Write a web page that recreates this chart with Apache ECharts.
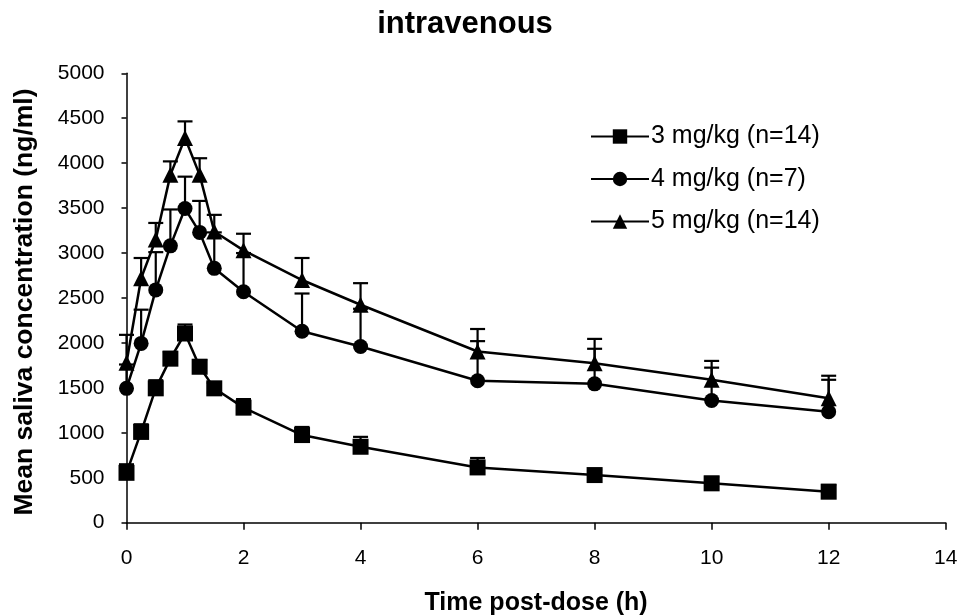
<!DOCTYPE html>
<html>
<head>
<meta charset="utf-8">
<script src="https://cdn.jsdelivr.net/npm/echarts@6/dist/echarts.min.js"></script>
<style>
  html, body { margin: 0; padding: 0; background: #fff; }
  #main { width: 959px; height: 616px; }
</style>
</head>
<body>
<div id="main"></div>
<script>
// time points (h)
var times = [0, 0.25, 0.5, 0.75, 1, 1.25, 1.5, 2, 3, 4, 6, 8, 10, 12];

// mean saliva concentration (ng/ml) and top of the error bar
var dose3 = [555, 1010, 1495, 1825, 2105, 1735, 1495, 1280, 975, 845, 615, 530, 438, 345];
var dose3Upper = [650, 1095, 1585, 1900, 2205, 1810, 1555, 1375, 1065, 955, 720, 590, 510, 420];

var dose4 = [1495, 1995, 2590, 3080, 3495, 3230, 2830, 2570, 2130, 1960, 1580, 1545, 1360, 1235];
var dose4Upper = [1760, 2370, 3010, 3485, 3850, 3580, 3230, 3000, 2550, 2380, 2020, 1935, 1725, 1590];

var dose5 = [1780, 2720, 3150, 3870, 4280, 3870, 3240, 3030, 2700, 2425, 1905, 1775, 1590, 1385];
var dose5Upper = [2090, 2945, 3335, 4020, 4465, 4055, 3425, 3215, 2945, 2665, 2155, 2045, 1800, 1635];

var seriesNames = ['3 mg/kg (n=14)', '4 mg/kg (n=7)', '5 mg/kg (n=14)'];

var font = 'Liberation Sans, Arial, sans-serif';

function pairs(vals) {
  return times.map(function (t, i) { return [t, vals[i]]; });
}
function bars(vals, upper) {
  return times.map(function (t, i) { return [t, vals[i], upper[i]]; });
}

// upper error bar with a cap
function renderErr(params, api) {
  var x = api.value(0);
  var p0 = api.coord([x, api.value(1)]);
  var p1 = api.coord([x, api.value(2)]);
  var st = { stroke: '#000', lineWidth: 2.2 };
  return {
    type: 'group',
    children: [
      { type: 'line', shape: { x1: p0[0], y1: p0[1], x2: p1[0], y2: p1[1] }, style: st },
      { type: 'line', shape: { x1: p1[0] - 7.5, y1: p1[1], x2: p1[0] + 7.5, y2: p1[1] }, style: st }
    ]
  };
}

function errSeries(vals, upper) {
  return {
    type: 'custom',
    renderItem: renderErr,
    data: bars(vals, upper),
    encode: { x: 0, y: [1, 2] },
    z: 1,
    silent: true
  };
}

function lineSeries(name, vals, symbol, size) {
  return {
    name: name,
    type: 'line',
    data: pairs(vals),
    symbol: symbol,
    symbolSize: size,
    showAllSymbol: true,
    z: 3,
    lineStyle: { color: '#000', width: 2.5 },
    itemStyle: { color: '#000', borderWidth: 0 }
  };
}

function plain(v) { return String(v); }

var chart = echarts.init(document.getElementById('main'));

var option = {
  animation: false,
  backgroundColor: '#fff',
  title: {
    text: 'intravenous',
    left: 460,
    top: 4,
    textAlign: 'center',
    textStyle: { fontFamily: font, fontSize: 31, fontWeight: 'bold', color: '#000' }
  },
  legend: {
    data: seriesNames,
    orient: 'vertical',
    left: 590,
    top: 124,
    padding: 0,
    itemWidth: 58,
    itemHeight: 18,
    itemGap: 17.5,
    textStyle: { fontFamily: font, fontSize: 25, color: '#000', padding: [0, 0, 0, -3] }
  },
  grid: { left: 126.5, right: 13.3, top: 73.3, bottom: 93.3, outerBoundsMode: 'none', containLabel: false },
  xAxis: {
    type: 'value',
    min: 0,
    max: 14,
    interval: 2,
    name: 'Time post-dose (h)',
    nameLocation: 'middle',
    nameGap: 68,
    nameTextStyle: { fontFamily: font, fontSize: 25, fontWeight: 'bold', color: '#000' },
    axisLine: { lineStyle: { color: '#000', width: 1.5 } },
    axisTick: { inside: false, length: 7, lineStyle: { color: '#000', width: 1.5 } },
    axisLabel: { fontFamily: font, fontSize: 21, color: '#000', margin: 25, formatter: plain },
    splitLine: { show: false }
  },
  yAxis: {
    type: 'value',
    min: 0,
    max: 5000,
    interval: 500,
    name: 'Mean saliva concentration (ng/ml)',
    nameLocation: 'middle',
    nameGap: 88,
    nameTextStyle: { fontFamily: font, fontSize: 26.5, fontWeight: 'bold', color: '#000', padding: [0, 0, 0, -8] },
    axisLine: { show: true, lineStyle: { color: '#000', width: 1.5 } },
    axisTick: { show: true, inside: false, length: 5, lineStyle: { color: '#000', width: 1.5 } },
    axisLabel: { fontFamily: font, fontSize: 21, color: '#000', margin: 22, formatter: plain },
    splitLine: { show: false }
  },
  series: [
    errSeries(dose3, dose3Upper),
    errSeries(dose4, dose4Upper),
    errSeries(dose5, dose5Upper),
    lineSeries(seriesNames[0], dose3, 'rect', 16),
    lineSeries(seriesNames[1], dose4, 'circle', 15),
    lineSeries(seriesNames[2], dose5, 'triangle', 16)
  ]
};

chart.setOption(option);
</script>
</body>
</html>
